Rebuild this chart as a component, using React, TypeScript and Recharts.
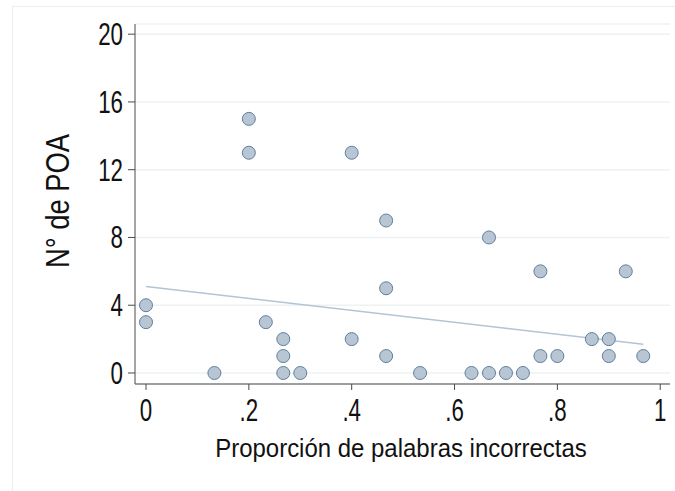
import { ScatterChart, Scatter, XAxis, YAxis, CartesianGrid } from "recharts";

// proportion of wrong words (x) and number of POA (y)
const propX = [
  0, 0, 0.133, 0.2, 0.2, 0.233, 0.267, 0.267, 0.267, 0.3, 0.4, 0.4, 0.467, 0.467, 0.467,
  0.533, 0.633, 0.667, 0.667, 0.7, 0.733, 0.767, 0.767, 0.8, 0.867, 0.9, 0.9, 0.933, 0.967,
];
const poaY = [
  4, 3, 0, 15, 13, 3, 2, 1, 0, 0, 13, 2, 9, 5, 1,
  0, 0, 8, 0, 0, 0, 6, 1, 1, 2, 2, 1, 6, 1,
];

// linear fit endpoints
const fitX = [0, 0.967];
const fitY = [5.1, 1.7];

const xTicks = [0, 0.2, 0.4, 0.6, 0.8, 1];
const yTicks = [0, 4, 8, 12, 16, 20];

const points = propX.map((x, i) => ({ x, y: poaY[i] }));
const fitLine = fitX.map((x, i) => ({ x, y: fitY[i] }));

const FONT = "'Liberation Sans', Arial, sans-serif";
const AXIS = "#4a4a4a";

function fmtX(v: number) {
  if (v === 0 || v === 1) return String(v);
  return v.toFixed(1).replace(/^0/, "");
}

// eslint-disable-next-line @typescript-eslint/no-explicit-any
function XTick({ x, y, payload }: any) {
  return (
    <text
      transform={`translate(${x},${y + 29}) scale(0.72,1)`}
      textAnchor="middle"
      fontFamily={FONT}
      fontSize={31}
      fill="#111"
    >
      {fmtX(payload.value)}
    </text>
  );
}

// eslint-disable-next-line @typescript-eslint/no-explicit-any
function YTick({ x, y, payload }: any) {
  return (
    <text
      transform={`translate(${x},${y + 11}) scale(0.72,1)`}
      textAnchor="end"
      fontFamily={FONT}
      fontSize={31}
      fill="#111"
    >
      {payload.value}
    </text>
  );
}

// eslint-disable-next-line @typescript-eslint/no-explicit-any
function Dot({ cx, cy }: any) {
  return <circle cx={cx} cy={cy} r={6.5} fill="#b8c6d3" stroke="#5f7f9f" strokeWidth={1} />;
}

function NoDot() {
  return <g />;
}

export default function App() {
  return (
    <div style={{ position: "absolute", left: 0, top: 0, width: 675, height: 491, background: "#fff" }}>
      <div
        style={{
          position: "absolute",
          left: 12,
          top: 6,
          width: 675,
          height: 491,
          borderTop: "1.5px solid #eaf0f0",
          borderLeft: "1.5px solid #eaf0f0",
        }}
      />
      <ScatterChart
        width={675}
        height={491}
        margin={{ top: 24, right: 5, bottom: 47, left: 75 }}
        style={{ position: "absolute", left: 0, top: 0 }}
      >
        <CartesianGrid horizontal vertical={false} stroke="#edf2f2" strokeWidth={1.5} />
        <XAxis
          type="number"
          dataKey="x"
          domain={[-0.0214, 1.019]}
          ticks={xTicks}
          height={60}
          tickSize={6}
          tickMargin={2}
          stroke={AXIS}
          tickLine={{ stroke: AXIS }}
          tick={<XTick />}
          allowDataOverflow
        />
        <YAxis
          type="number"
          dataKey="y"
          domain={[-0.65, 20.6]}
          ticks={yTicks}
          width={60}
          tickSize={7}
          tickMargin={5}
          stroke={AXIS}
          tickLine={{ stroke: AXIS }}
          tick={<YTick />}
          allowDataOverflow
        />
        <Scatter
          data={fitLine}
          line={{ stroke: "#b4c4d4", strokeWidth: 1.5 }}
          shape={<NoDot />}
          isAnimationActive={false}
        />
        <Scatter data={points} shape={<Dot />} isAnimationActive={false} />
        <text
          transform="translate(401,457) scale(0.94,1)"
          textAnchor="middle"
          fontFamily={FONT}
          fontSize={25.5}
          fill="#111"
        >
          Proporción de palabras incorrectas
        </text>
        <text
          transform="translate(69,201) rotate(-90) scale(0.83,1)"
          textAnchor="middle"
          fontFamily={FONT}
          fontSize={33}
          fill="#111"
        >
          N° de POA
        </text>
      </ScatterChart>
    </div>
  );
}
